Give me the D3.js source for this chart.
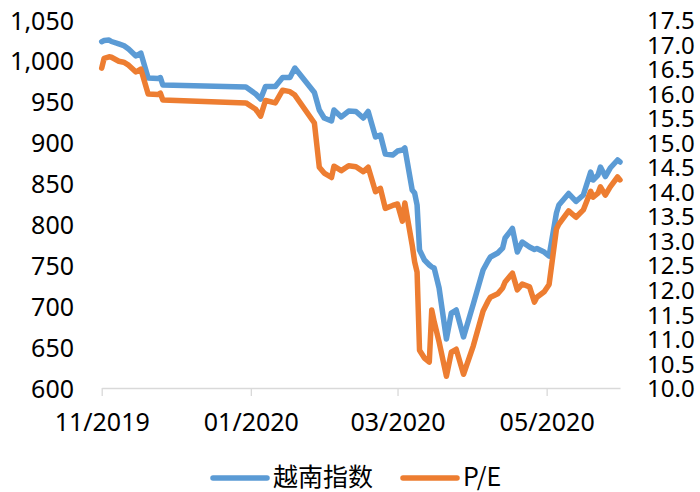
<!DOCTYPE html>
<html>
<head>
<meta charset="utf-8">
<script src="https://cdn.jsdelivr.net/npm/d3@7"></script>
<style>
  body { margin: 0; background: #fff; }
  svg { display: block; font-family: "Noto Sans", sans-serif; }
</style>
</head>
<body>
<div id="chart"></div>
<script>
// CONSTANTS
const WIDTH = 700;
const HEIGHT = 492;
const BLUE = "#5b9bd5";
const ORANGE = "#ed7d31";

// data
const dates = [
  "2019-11-01","2019-11-02","2019-11-04","2019-11-05","2019-11-08","2019-11-10","2019-11-12","2019-11-15",
  "2019-11-17","2019-11-20","2019-11-24","2019-11-25","2019-11-26","2019-12-30","2020-01-03","2020-01-05",
  "2020-01-07","2020-01-11","2020-01-14","2020-01-17","2020-01-19","2020-01-27","2020-01-29","2020-01-31",
  "2020-02-03","2020-02-04","2020-02-07","2020-02-10","2020-02-13","2020-02-16","2020-02-18","2020-02-21",
  "2020-02-23","2020-02-25","2020-02-28","2020-03-01","2020-03-03","2020-03-04","2020-03-07","2020-03-08",
  "2020-03-09","2020-03-10","2020-03-12","2020-03-14","2020-03-15","2020-03-16","2020-03-18","2020-03-21",
  "2020-03-23","2020-03-25","2020-03-28","2020-04-01","2020-04-05","2020-04-07","2020-04-08","2020-04-11",
  "2020-04-13","2020-04-14","2020-04-17","2020-04-19","2020-04-21","2020-04-24","2020-04-26","2020-04-27",
  "2020-04-30","2020-05-02","2020-05-05","2020-05-06","2020-05-10","2020-05-13","2020-05-16","2020-05-19",
  "2020-05-20","2020-05-22","2020-05-23","2020-05-25","2020-05-27","2020-05-30","2020-05-31"
];
const indexValues = [
  1023.5,1024.9,1025.5,1023.7,1020.7,1018.8,1014.5,1006.0,
  1009.6,979.1,978.5,979.7,970.5,968.1,959.5,953.4,
  968.7,968.7,979.7,979.7,991.3,961.3,939.9,930.2,
  926.5,939.9,931.4,938.7,938.1,930.2,938.1,906.9,
  909.4,886.1,884.9,889.8,891.0,893.5,842.1,838.5,
  823.8,768.8,756.5,750.4,748.0,746.7,722.3,659.9,
  691.7,695.4,662.4,702.7,744.3,755.3,760.2,765.1,
  771.2,783.4,795.0,766.3,778.5,772.4,769.4,770.6,
  766.3,761.4,814.0,823.8,837.8,828.1,836.0,864.1,
  854.3,860.5,870.2,858.6,869.0,878.8,876.4
];
const peValues = [
  16.52,16.72,16.75,16.74,16.66,16.64,16.58,16.44,
  16.50,15.99,15.98,16.01,15.87,15.81,15.68,15.54,
  15.86,15.81,16.07,16.04,15.97,15.40,14.50,14.38,
  14.29,14.52,14.43,14.53,14.51,14.41,14.50,14.00,
  14.07,13.66,13.72,13.75,13.40,13.77,12.91,12.57,
  12.36,10.77,10.61,10.53,11.59,11.35,10.94,10.24,
  10.73,10.79,10.28,10.86,11.57,11.77,11.85,11.92,
  12.04,12.16,12.34,12.00,12.12,12.06,11.75,11.85,
  11.96,12.11,13.24,13.34,13.61,13.48,13.63,14.01,
  13.89,13.97,14.10,13.93,14.10,14.30,14.24
];
const xTicks = ["2019-11-01","2020-01-01","2020-03-01","2020-05-01"];
const seriesNames = ["越南指数", "P/E"];

const parseDate = d3.timeParse("%Y-%m-%d");
const rows = dates.map((d, i) => ({ date: parseDate(d), idx: indexValues[i], pe: peValues[i] }));

const svg = d3.select("#chart").append("svg")
  .attr("width", WIDTH)
  .attr("height", HEIGHT);

const x = d3.scaleTime()
  .domain([parseDate("2019-11-01"), parseDate("2020-05-31")])
  .range([101.7, 620]);
const yLeft = d3.scaleLinear().domain([600, 1050]).range([388, 20]);
const yRight = d3.scaleLinear().domain([10, 17.5]).range([388, 20]);

// left axis
const leftAxis = svg.append("g")
  .attr("transform", "translate(74,0)")
  .call(d3.axisLeft(yLeft).tickValues(d3.range(600, 1051, 50)).tickFormat(d3.format(",")).tickSize(0).tickPadding(0));
leftAxis.select(".domain").remove();
leftAxis.selectAll("text")
  .attr("font-family", "Noto Sans").attr("font-size", 25).attr("fill", "#000")
  .attr("dy", "0.36em");

// right axis
const rightAxis = svg.append("g")
  .attr("transform", "translate(647,0)")
  .call(d3.axisRight(yRight).tickValues(d3.range(10, 17.51, 0.5)).tickFormat(d3.format(".1f")).tickSize(0).tickPadding(0));
rightAxis.select(".domain").remove();
rightAxis.selectAll("text")
  .attr("font-family", "Noto Sans").attr("font-size", 24).attr("fill", "#000")
  .attr("dy", "0.36em");

// x axis
const xAxis = svg.append("g")
  .attr("transform", "translate(0,388)")
  .call(d3.axisBottom(x).tickValues(xTicks.map(parseDate)).tickFormat(d3.timeFormat("%m/%Y")).tickSize(8).tickPadding(0).tickSizeOuter(0));
xAxis.select(".domain").attr("stroke", "#d9d9d9").attr("stroke-width", 1.3);
xAxis.selectAll(".tick line").attr("stroke", "#d9d9d9").attr("stroke-width", 1.3);
xAxis.selectAll("text")
  .attr("font-family", "Noto Sans").attr("font-size", 25).attr("fill", "#000")
  .attr("y", 43).attr("dy", 0);

// lines
const idxLine = d3.line().x(d => x(d.date)).y(d => yLeft(d.idx));
const peLine = d3.line().x(d => x(d.date)).y(d => yRight(d.pe));

svg.append("path").datum(rows)
  .attr("d", idxLine)
  .attr("fill", "none").attr("stroke", BLUE).attr("stroke-width", 5.5)
  .attr("stroke-linejoin", "round").attr("stroke-linecap", "round");

svg.append("path").datum(rows)
  .attr("d", peLine)
  .attr("fill", "none").attr("stroke", ORANGE).attr("stroke-width", 5.5)
  .attr("stroke-linejoin", "round").attr("stroke-linecap", "round");

// legend
const legendItems = [
  { name: seriesNames[0], color: BLUE, x0: 213 },
  { name: seriesNames[1], color: ORANGE, x0: 403 }
];
const legend = svg.append("g").selectAll("g").data(legendItems).enter().append("g");
legend.append("line")
  .attr("x1", d => d.x0).attr("x2", d => d.x0 + 54)
  .attr("y1", 478).attr("y2", 478)
  .attr("stroke", d => d.color).attr("stroke-width", 5.5).attr("stroke-linecap", "round");
legend.append("text")
  .attr("x", d => d.x0 + 60).attr("y", 486)
  .attr("font-family", "'Noto Sans CJK SC', 'Noto Sans', sans-serif")
  .attr("font-size", 25).attr("fill", "#000")
  .text(d => d.name);
</script>
</body>
</html>
